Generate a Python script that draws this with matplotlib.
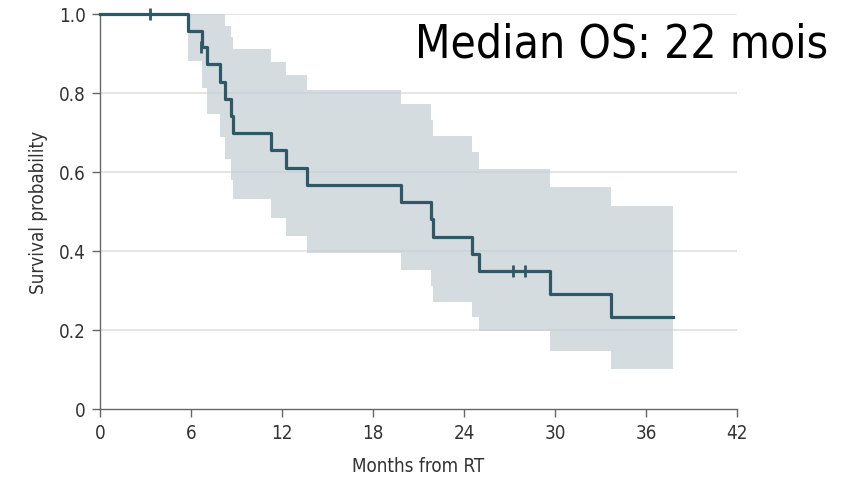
import numpy as np
import matplotlib.pyplot as plt

# Kaplan-Meier estimate (months from RT) with 95% CI
times = [0, 5.78, 6.70, 7.07, 7.91, 8.26, 8.64, 8.79, 11.30, 12.26, 13.67,
         19.84, 21.80, 21.97, 24.54, 25.00, 29.70, 33.70]
surv = [1.0, 0.958, 0.917, 0.873, 0.829, 0.786, 0.742, 0.698, 0.655, 0.611,
        0.567, 0.524, 0.480, 0.436, 0.393, 0.349, 0.291, 0.233]
upper = [1.0, 1.0, 1.0, 1.0, 1.0, 0.970, 0.941, 0.911, 0.879, 0.846, 0.808,
         0.773, 0.732, 0.692, 0.651, 0.608, 0.562, 0.513]
lower = [1.0, 0.882, 0.812, 0.747, 0.689, 0.633, 0.580, 0.532, 0.484, 0.439,
         0.394, 0.353, 0.311, 0.272, 0.232, 0.197, 0.146, 0.101]
t_end = 37.8

# censored patients
cens_t = [3.3, 6.68, 27.25, 28.0]
cens_s = [1.0, 0.917, 0.349, 0.349]

xticks = [0, 6, 12, 18, 24, 30, 36, 42]
yticks = [0, 0.2, 0.4, 0.6, 0.8, 1.0]
ytick_labels = ['0', '0.2', '0.4', '0.6', '0.8', '1.0']
median_text = 'Median OS: 22 mois'

t = np.array(times + [t_end])
s = np.array(surv + [surv[-1]])
up = np.array(upper + [upper[-1]])
lo = np.array(lower + [lower[-1]])

fig = plt.figure(figsize=(8.56, 4.81), dpi=100)
ax = fig.add_axes([100/856, 71/481, 637/856, 395/481])

line_c = '#2e5866'
ax.fill_between(t, lo, up, step='post', color='#c3ced4', alpha=0.7,
                linewidth=0, zorder=2)
ax.step(t, s, where='post', color=line_c, lw=2.3, zorder=3, clip_on=False)
ax.plot(cens_t, cens_s, linestyle='none', marker='|', ms=8, mew=2,
        color=line_c, zorder=4, clip_on=False)

ax.set_xlim(0, 42)
ax.set_ylim(0, 1)
ax.set_xticks(xticks)
ax.set_yticks(yticks)
ax.set_yticklabels(ytick_labels)

for y in yticks[1:]:
    ax.axhline(y, color='#e0e0e0', lw=1.2, zorder=1)

for side in ['top', 'right']:
    ax.spines[side].set_visible(False)
for side in ['left', 'bottom']:
    ax.spines[side].set_color('#666666')
    ax.spines[side].set_linewidth(1)

ax.tick_params(direction='out', length=6, width=1, color='#666666',
               labelcolor='#333333', labelsize=13.5, pad=4)
for lab in ax.get_xticklabels() + ax.get_yticklabels():
    lab.set_fontstretch('condensed')

ax.set_xlabel('Months from RT', fontsize=13.5, color='#333333',
              fontstretch='condensed', labelpad=10)
ax.set_ylabel('Survival probability', fontsize=13.5, color='#333333',
              fontstretch='condensed', labelpad=8)

fig.text(828/856, 1 - 45/481, median_text, ha='right', va='center',
         fontsize=33, color='black', family='DejaVu Sans',
         fontstretch='condensed')

fig.savefig('out.png', dpi=100)
